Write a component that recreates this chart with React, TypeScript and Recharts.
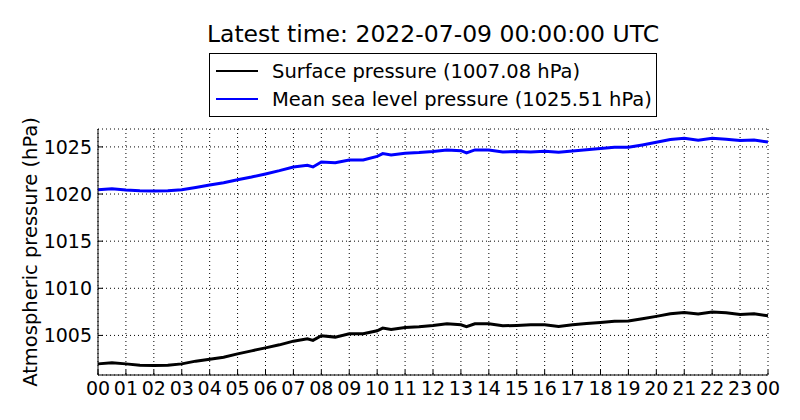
import React from 'react';
import { LineChart, Line, XAxis, YAxis, CartesianGrid } from 'recharts';

// hours since 2022-07-08 00:00 UTC
const hours = [
  0, 0.5, 1, 1.5, 2, 2.5, 3, 3.5, 4, 4.5, 5, 5.5, 6, 6.5, 7, 7.5, 7.7, 8, 8.5, 9, 9.5,
  10, 10.2, 10.5, 11, 11.5, 12, 12.5, 13, 13.2, 13.5, 14, 14.5, 15, 15.5, 16, 16.5, 17,
  17.5, 18, 18.5, 19, 19.5, 20, 20.5, 21, 21.5, 22, 22.5, 23, 23.5, 24,
];

const surfacePressure = [
  1001.98, 1002.09, 1001.98, 1001.84, 1001.81, 1001.84, 1001.98, 1002.27, 1002.48, 1002.69,
  1003.04, 1003.36, 1003.68, 1004.0, 1004.39, 1004.64, 1004.47, 1004.96, 1004.82, 1005.17,
  1005.17, 1005.49, 1005.78, 1005.64, 1005.85, 1005.92, 1006.05, 1006.23, 1006.13, 1005.92,
  1006.23, 1006.23, 1006.02, 1006.06, 1006.13, 1006.13, 1005.95, 1006.13, 1006.27, 1006.38,
  1006.49, 1006.52, 1006.77, 1007.02, 1007.3, 1007.44, 1007.27, 1007.48, 1007.41, 1007.23,
  1007.3, 1007.08,
];

const seaLevelPressure = [
  1020.46, 1020.56, 1020.42, 1020.35, 1020.32, 1020.35, 1020.46, 1020.7, 1020.96, 1021.2,
  1021.52, 1021.8, 1022.13, 1022.48, 1022.87, 1023.04, 1022.87, 1023.4, 1023.33, 1023.62,
  1023.62, 1024.0, 1024.29, 1024.15, 1024.32, 1024.4, 1024.52, 1024.68, 1024.6, 1024.36,
  1024.68, 1024.68, 1024.47, 1024.5, 1024.47, 1024.53, 1024.43, 1024.57, 1024.71, 1024.82,
  1024.96, 1024.96, 1025.21, 1025.49, 1025.78, 1025.91, 1025.7, 1025.91, 1025.81, 1025.67,
  1025.74, 1025.51,
];

const hourTicks = Array.from({ length: 25 }, (_, i) => i);
const pressureTicks = [1005, 1010, 1015, 1020, 1025];

const FONT = '"DejaVu Sans", sans-serif';

const data = hours.map((h, i) => ({
  h,
  surface: surfacePressure[i],
  msl: seaLevelPressure[i],
}));

const fmtHour = (h: number) => String(h % 24).padStart(2, '0');
const noLabel = () => <g />;

export default function App() {
  return (
    <div style={{ position: 'absolute', left: 0, top: 0, width: 800, height: 420, background: '#fff', fontFamily: FONT }}>
      <div style={{ position: 'absolute', left: 0, width: 866, top: 20, textAlign: 'center', fontSize: 23.5, color: '#000', lineHeight: '28px', whiteSpace: 'nowrap' }}>
        Latest time: 2022-07-09 00:00:00 UTC
      </div>
      <div
        style={{
          position: 'absolute', left: 209, top: 53, width: 446, height: 62,
          border: '1px solid #000', fontSize: 19.5, color: '#000',
        }}
      >
        {[
          { color: '#000000', label: 'Surface pressure (1007.08 hPa)' },
          { color: '#0000ff', label: 'Mean sea level pressure (1025.51 hPa)' },
        ].map((item, i) => (
          <div key={i} style={{ position: 'absolute', left: 6, top: 3.5 + i * 28, height: 28, display: 'flex', alignItems: 'center' }}>
            <div style={{ position: 'absolute', left: 0, top: 12, width: 42, height: 2.5, background: item.color }} />
            <span style={{ marginLeft: 56, whiteSpace: 'nowrap' }}>{item.label}</span>
          </div>
        ))}
      </div>
      <div
        style={{
          position: 'absolute', left: 30, top: 252, fontSize: 19.5, whiteSpace: 'nowrap',
          transform: 'translate(-50%, -50%) rotate(-90deg)', color: '#000',
        }}
      >
        Atmospheric pressure (hPa)
      </div>
      <LineChart
        width={800}
        height={420}
        data={data}
        margin={{ top: 129, right: 32, bottom: 15, left: 38 }}
        style={{ position: 'absolute', left: 0, top: 0 }}
      >
        <CartesianGrid stroke="#000" strokeDasharray="1 3" strokeWidth={1} />
        <XAxis
          dataKey="h"
          type="number"
          domain={[0, 24]}
          ticks={hourTicks}
          tickFormatter={fmtHour}
          interval={0}
          height={30}
          tickSize={-5}
          tickMargin={12}
          axisLine={{ stroke: '#000', strokeWidth: 1 }}
          tickLine={{ stroke: '#000' }}
          tick={{ fill: '#000', fontSize: 19, fontFamily: FONT }}
        />
        <XAxis
          xAxisId="top"
          dataKey="h"
          type="number"
          orientation="top"
          domain={[0, 24]}
          ticks={hourTicks}
          interval={0}
          height={0}
          tickSize={-5}
          axisLine={{ stroke: '#000', strokeWidth: 1 }}
          tickLine={{ stroke: '#000' }}
          tick={noLabel}
        />
        <YAxis
          type="number"
          domain={[1000.8, 1026.9]}
          ticks={pressureTicks}
          allowDataOverflow
          width={60}
          tickSize={-5}
          tickMargin={11}
          axisLine={{ stroke: '#000', strokeWidth: 1 }}
          tickLine={{ stroke: '#000' }}
          tick={{ fill: '#000', fontSize: 19, fontFamily: FONT }}
        />
        <YAxis
          yAxisId="right"
          orientation="right"
          type="number"
          domain={[1000.8, 1026.9]}
          ticks={pressureTicks}
          allowDataOverflow
          width={0}
          tickSize={-5}
          axisLine={{ stroke: '#000', strokeWidth: 1 }}
          tickLine={{ stroke: '#000' }}
          tick={noLabel}
        />
        <Line
          type="linear"
          dataKey="surface"
          stroke="#000000"
          strokeWidth={3}
          dot={false}
          isAnimationActive={false}
        />
        <Line
          type="linear"
          dataKey="msl"
          stroke="#0000ff"
          strokeWidth={3}
          dot={false}
          isAnimationActive={false}
        />
      </LineChart>
    </div>
  );
}
